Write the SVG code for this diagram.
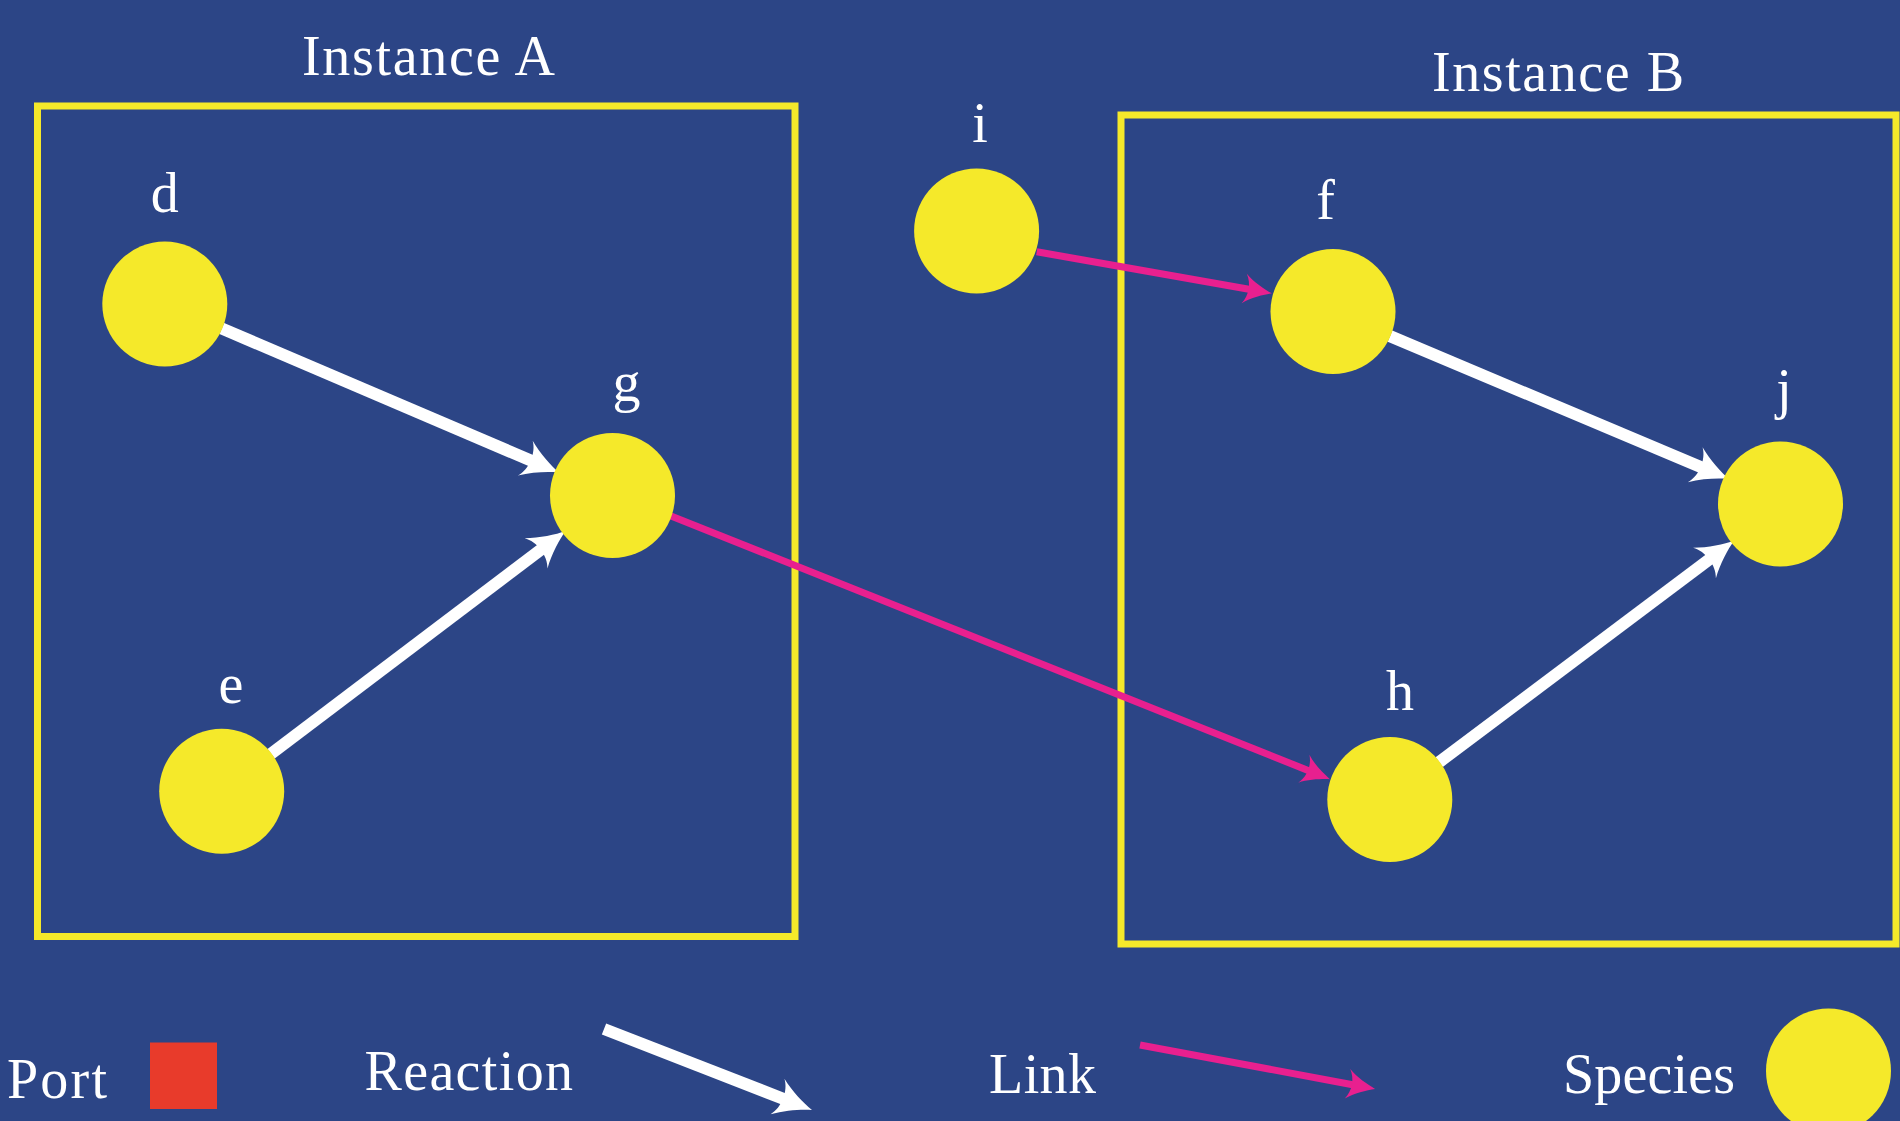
<svg xmlns="http://www.w3.org/2000/svg" width="1900" height="1121" viewBox="0 0 1900 1121">
<style>
.bg{fill:#2c4586}
.box{fill:none;stroke:#f5e92a;stroke-width:7}
.sp{fill:#f5e92a}
.t{font-family:"Liberation Serif","Times New Roman",serif;font-size:56px;fill:#ffffff}
.lbl{text-anchor:middle}
.rx{stroke:#ffffff;stroke-width:12;fill:none}
.lk{stroke:#e8208f;stroke-width:7;fill:none}
</style>
<defs>
<marker id="ah-white" viewBox="-42 -22 46 44" refX="-22" refY="0" markerWidth="46" markerHeight="44" markerUnits="userSpaceOnUse" orient="auto">
<path d="M0,0 C-10,-3 -25,-10 -37,-19 C-29,-9 -29,9 -37,19 C-25,10 -10,3 0,0 Z" fill="#ffffff"/>
</marker>
<marker id="ah-pink" viewBox="-34 -18 38 36" refX="-16" refY="0" markerWidth="38" markerHeight="36" markerUnits="userSpaceOnUse" orient="auto">
<path d="M0,0 C-8,-3 -20,-8 -28,-15 C-22,-6 -22,6 -28,15 C-20,8 -8,3 0,0 Z" fill="#e8208f"/>
</marker>
</defs>
<rect class="bg" x="0" y="0" width="1900" height="1121"/>

<g id="instanceA">
<rect class="box" x="37.5" y="106" width="757.5" height="830.5"/>
<text class="t" x="302" y="75" textLength="253" lengthAdjust="spacing">Instance A</text>
</g>
<g id="instanceB">
<rect class="box" x="1121" y="115" width="775" height="829"/>
<text class="t" x="1432" y="91" textLength="252" lengthAdjust="spacing">Instance B</text>
</g>

<g id="connectors">
<line id="d-g" class="rx" x1="221.8" y1="328.5" x2="539" y2="464" marker-end="url(#ah-white)"/>
<line id="e-g" class="rx" x1="271.1" y1="753.8" x2="548" y2="544.3" marker-end="url(#ah-white)"/>
<line id="f-j" class="rx" x1="1390" y1="336.1" x2="1709" y2="470.5" marker-end="url(#ah-white)"/>
<line id="h-j" class="rx" x1="1439.2" y1="762.1" x2="1716.5" y2="554" marker-end="url(#ah-white)"/>
<line id="g-h" class="lk" x1="671" y1="516" x2="1315" y2="773.2" marker-end="url(#ah-pink)"/>
<line id="i-f" class="lk" x1="1036.7" y1="251.7" x2="1256" y2="290.5" marker-end="url(#ah-pink)"/>
</g>

<g id="node-d"><circle class="sp" cx="164.8" cy="304.1" r="62.5"/><text class="t lbl" x="164.7" y="211.7">d</text></g>
<g id="node-e"><circle class="sp" cx="221.7" cy="791.2" r="62.5"/><text class="t lbl" x="231" y="702.7">e</text></g>
<g id="node-g"><circle class="sp" cx="612.5" cy="495.5" r="62.5"/><text class="t lbl" x="626.5" y="401">g</text></g>
<g id="node-i"><circle class="sp" cx="976.6" cy="231" r="62.5"/><text class="t lbl" x="980" y="142">i</text></g>
<g id="node-f"><circle class="sp" cx="1333" cy="311.6" r="62.5"/><text class="t lbl" x="1325.6" y="218.5">f</text></g>
<g id="node-j"><circle class="sp" cx="1780.5" cy="504" r="62.5"/><text class="t lbl" x="1784" y="408">j</text></g>
<g id="node-h"><circle class="sp" cx="1389.8" cy="799.5" r="62.5"/><text class="t lbl" x="1400" y="710">h</text></g>

<g id="legend">
<text class="t" x="7" y="1098" textLength="100" lengthAdjust="spacing">Port</text>
<rect x="150" y="1042.5" width="67" height="66.5" fill="#e83b2b"/>
<text class="t" x="364.5" y="1090" textLength="208.5" lengthAdjust="spacing">Reaction</text>
<line class="rx" x1="604" y1="1029" x2="791.5" y2="1102" marker-end="url(#ah-white)"/>
<text class="t" x="989" y="1093" textLength="107" lengthAdjust="spacing">Link</text>
<line class="lk" x1="1140" y1="1045" x2="1359.3" y2="1086" marker-end="url(#ah-pink)"/>
<text class="t" x="1563" y="1092.5" textLength="172" lengthAdjust="spacing">Species</text>
<circle class="sp" cx="1828.5" cy="1071" r="62.5"/>
</g>
</svg>
